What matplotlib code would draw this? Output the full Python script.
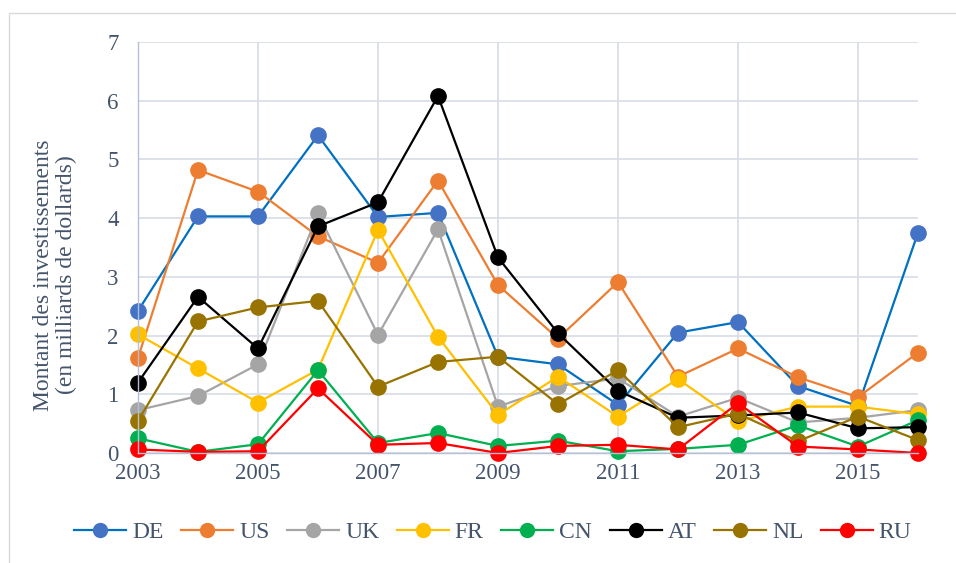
import matplotlib
matplotlib.use("Agg")
import matplotlib.pyplot as plt
from matplotlib.patches import Rectangle
from matplotlib.lines import Line2D

years = list(range(2003, 2017))
series_names = ["DE", "US", "UK", "FR", "CN", "AT", "NL", "RU"]
DE = [2.42, 4.03, 4.03, 5.41, 4.02, 4.09, 1.64, 1.51, 0.82, 2.05, 2.23, 1.14, 0.80, 3.75]
US = [1.62, 4.82, 4.45, 3.69, 3.24, 4.64, 2.86, 1.95, 2.91, 1.30, 1.78, 1.29, 0.95, 1.71]
UK = [0.73, 0.97, 1.51, 4.08, 2.01, 3.81, 0.79, 1.14, 1.27, 0.62, 0.94, 0.52, 0.60, 0.73]
FR = [2.02, 1.44, 0.86, 1.42, 3.80, 1.98, 0.65, 1.30, 0.62, 1.26, 0.54, 0.79, 0.79, 0.66]
CN = [0.25, 0.02, 0.15, 1.41, 0.17, 0.34, 0.12, 0.21, 0.03, 0.07, 0.14, 0.47, 0.11, 0.56]
AT = [1.20, 2.66, 1.78, 3.86, 4.27, 6.08, 3.33, 2.04, 1.06, 0.60, 0.64, 0.69, 0.42, 0.44]
NL = [0.55, 2.24, 2.48, 2.59, 1.13, 1.55, 1.64, 0.83, 1.41, 0.44, 0.67, 0.20, 0.62, 0.22]
RU = [0.06, 0.02, 0.03, 1.10, 0.14, 0.17, 0.00, 0.12, 0.14, 0.06, 0.85, 0.11, 0.06, 0.00]
data = [DE, US, UK, FR, CN, AT, NL, RU]

marker_colors = ["#4472C4", "#ED7D31", "#A5A5A5", "#FFC000", "#00B050", "#000000", "#997300", "#FF0000"]
line_colors = ["#0070C0", "#ED7D31", "#A5A5A5", "#FFC000", "#00B050", "#000000", "#997300", "#FF0000"]

xtick_labels = ["2003", "2005", "2007", "2009", "2011", "2013", "2015"]
ylabel = "Montant des investissements\n(en milliards de dollards)"

plt.rcParams["font.family"] = ["Liberation Serif", "DejaVu Serif"]
text_color = "#44546A"

fig = plt.figure(figsize=(9.56, 5.63), dpi=100)
W, H = 956, 563
ax = fig.add_axes([138 / W, 1 - 453 / H, (918 - 138) / W, (453 - 42) / H])

# figure border
fig.patches.append(Rectangle((9 / W, -0.05), 1.2, 1 - 13 / H + 0.05, transform=fig.transFigure,
                             fill=False, edgecolor="#D9D9D9", linewidth=1.0, zorder=0))

for name, vals, mc, lc in zip(series_names, data, marker_colors, line_colors):
    ax.plot(years, vals, color=lc, linewidth=1.6, marker="o", markersize=11,
            markerfacecolor=mc, markeredgecolor=mc, label=name, clip_on=False)

ax.set_xlim(2003, 2016)
ax.set_ylim(0, 7)
ax.set_xticks([int(t) for t in xtick_labels])
ax.set_xticklabels(xtick_labels)
ax.set_yticks(range(0, 8))
ax.grid(True, color="#D9DEE8", linewidth=1.3)
ax.set_axisbelow(True)
for s in ["top", "right"]:
    ax.spines[s].set_visible(False)
for s in ["left", "bottom"]:
    ax.spines[s].set_color("#B4C0D6")
    ax.spines[s].set_linewidth(1.0)
ax.tick_params(length=0, labelsize=16.5, colors=text_color, pad=7)
ax.tick_params(axis="y", pad=14)

fig.text(55 / W, 1 - 275 / H, ylabel, rotation=90, ha="center", va="center",
         fontsize=17, color=text_color, linespacing=1.12, multialignment="center")

handles = [Line2D([0], [0], color=lc, linewidth=1.6, marker="o", markersize=10,
                  markerfacecolor=mc, markeredgecolor=mc)
           for mc, lc in zip(marker_colors, line_colors)]
fig.legend(handles, series_names, loc="center", bbox_to_anchor=(493 / W, 1 - 532 / H), ncol=8,
           frameon=False, fontsize=17, labelcolor=text_color, handlelength=2.2,
           handletextpad=0.25, columnspacing=0.75)

fig.savefig("out.png", dpi=100)
